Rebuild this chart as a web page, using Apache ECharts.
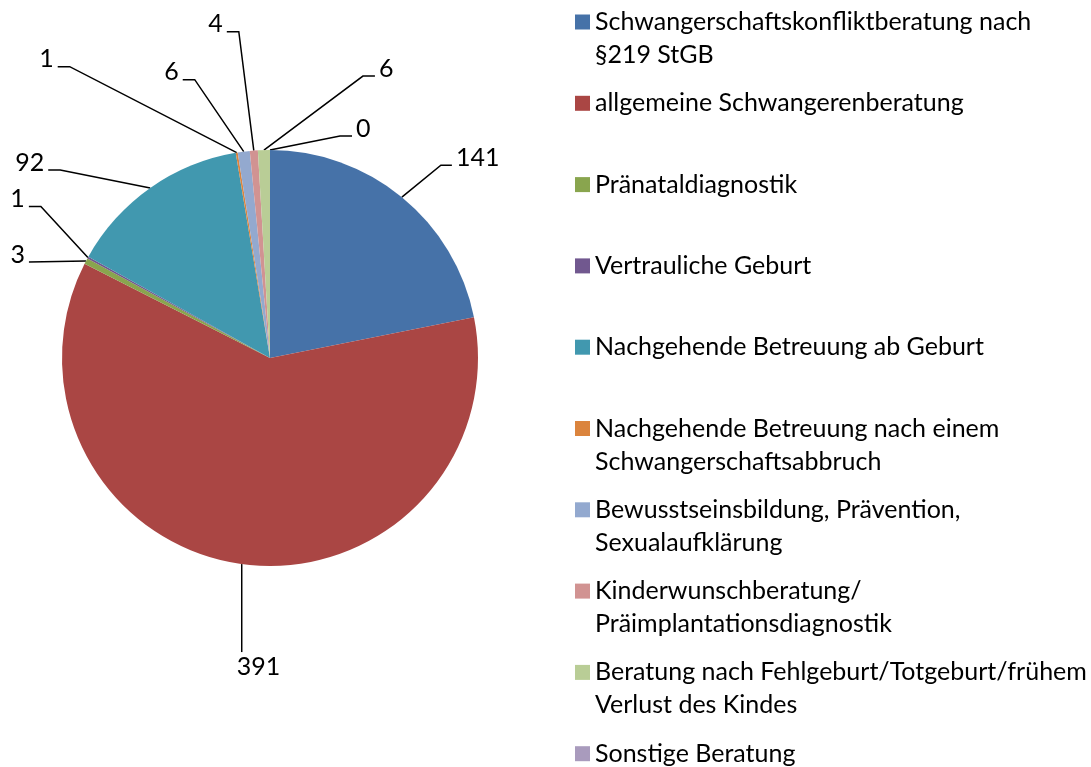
<!DOCTYPE html>
<html><head><meta charset="utf-8">
<script src="https://cdn.jsdelivr.net/npm/echarts@6/dist/echarts.min.js"></script>
<style>html,body{margin:0;padding:0;background:#fff}#c{width:1091px;height:767px}</style>
</head><body><div id="c"></div>
<script>
// ---- data ----
const categories = [
  "Schwangerschaftskonfliktberatung nach §219 StGB",
  "allgemeine Schwangerenberatung",
  "Pränataldiagnostik",
  "Vertrauliche Geburt",
  "Nachgehende Betreuung ab Geburt",
  "Nachgehende Betreuung nach einem Schwangerschaftsabbruch",
  "Bewusstseinsbildung, Prävention, Sexualaufklärung",
  "Kinderwunschberatung/Präimplantationsdiagnostik",
  "Beratung nach Fehlgeburt/Totgeburt/frühem Verlust des Kindes",
  "Sonstige Beratung"
];
const values = [141, 391, 3, 1, 92, 1, 6, 4, 6, 0];
// legend text as wrapped in the reference
const legendLines = [
  ["Schwangerschaftskonfliktberatung nach", "§219 StGB"],
  ["allgemeine Schwangerenberatung"],
  ["Pränataldiagnostik"],
  ["Vertrauliche Geburt"],
  ["Nachgehende Betreuung ab Geburt"],
  ["Nachgehende Betreuung nach einem", "Schwangerschaftsabbruch"],
  ["Bewusstseinsbildung, Prävention,", "Sexualaufklärung"],
  ["Kinderwunschberatung/", "Präimplantationsdiagnostik"],
  ["Beratung nach Fehlgeburt/Totgeburt/frühem", "Verlust des Kindes"],
  ["Sonstige Beratung"]
];

// ---- styles / layout ----
const colors = ["#4672A8", "#AA4644", "#89A54E", "#71588F", "#4198AF", "#DB843D", "#93A9CF", "#D19392", "#B9CD96", "#A99BBD"];
const FONT = "Lato";
const FS = 25;
// leader-line guides relative to the slice edge anchor
const guides = [
  {dx: 39, dy: -32, h: 11, side: "right"},
  {dx: 0, dy: 88, h: 0, side: "bottom"},
  {dx: -57, dy: 1, h: 0, side: "left"},
  {dx: -47, dy: -51, h: -12, side: "left"},
  {dx: -90, dy: -18, h: -12, side: "left"},
  {dx: -167, dy: -86, h: -12, side: "left"},
  {dx: -49, dy: -72, h: -12, side: "left"},
  {dx: -15, dy: -119, h: -12, side: "left"},
  {dx: 99, dy: -74, h: 12, side: "right"},
  {dx: 70, dy: -14, h: 12, side: "right"}
];

const legendTop0 = 22, legendStep = 81.3, legendShift = FS / 2;
const legends = categories.map((name, i) => ({
  data: [{name: name, icon: "rect"}],
  orient: "vertical",
  left: 575,
  top: legendTop0 + legendStep * i - legendShift,
  padding: 0,
  itemWidth: 15,
  itemHeight: 15,
  itemGap: 0,
  selectedMode: false,
  formatter: () => legendLines[i].map(l => "{t|" + l + "}").join("\n"),
  textStyle: {
    fontFamily: FONT, fontSize: FS, color: "#000",
    padding: legendLines[i].length > 1 ? [33, 0, 0, 0] : 0,
    rich: {t: {fontFamily: FONT, fontSize: FS, lineHeight: 33, color: "#000"}}
  }
}));

const chart = echarts.init(document.getElementById("c"), null, {renderer: "canvas"});
chart.setOption({
  animation: false,
  backgroundColor: "#fff",
  color: colors,
  legend: legends,
  series: [{
    type: "pie",
    center: [270, 358],
    radius: 208,
    startAngle: 90,
    clockwise: true,
    avoidLabelOverlap: false,
    minShowLabelAngle: 0,
    itemStyle: {borderWidth: 0},
    label: {
      show: true, position: "outside", formatter: "{c}",
      fontFamily: FONT, fontSize: FS, color: "#000"
    },
    labelLine: {show: true, smooth: false, length: 20, length2: 10,
      lineStyle: {color: "#000", width: 1.5}},
    labelLayout: function (params) {
      const g = guides[params.dataIndex];
      const pts = params.labelLinePoints;
      if (!g || !pts) return {};
      const p0 = pts[0];
      const p1 = [p0[0] + g.dx, p0[1] + g.dy];
      const p2 = [p1[0] + g.h, p1[1]];
      if (g.side === "bottom") {
        return {x: p1[0] - 5, y: p1[1] + 2, align: "left", verticalAlign: "top",
          labelLinePoints: [p0, p1, p1]};
      }
      const right = g.side === "right";
      return {x: p2[0] + (right ? 4 : -4), y: p2[1] - 7.5,
        align: right ? "left" : "right", verticalAlign: "middle",
        labelLinePoints: [p0, p1, p2]};
    },
    emphasis: {disabled: true},
    data: categories.map((n, i) => ({name: n, value: values[i]}))
  }]
});
</script>
</body></html>
